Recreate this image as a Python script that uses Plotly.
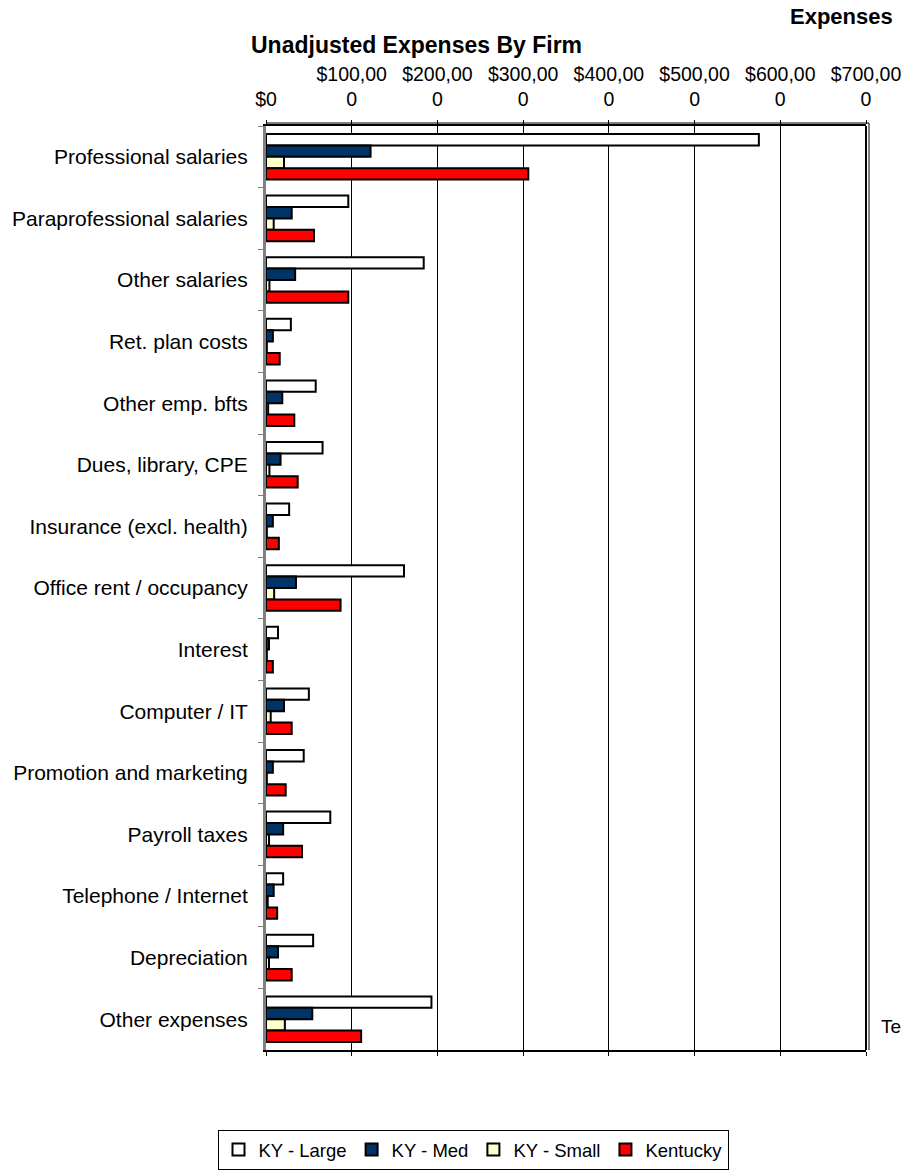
import plotly.graph_objects as go

categories = ["Professional salaries", "Paraprofessional salaries", "Other salaries",
              "Ret. plan costs", "Other emp. bfts", "Dues, library, CPE",
              "Insurance (excl. health)", "Office rent / occupancy", "Interest",
              "Computer / IT", "Promotion and marketing", "Payroll taxes",
              "Telephone / Internet", "Depreciation", "Other expenses"]

ky_large = [575000, 96000, 184000, 29000, 58000, 66000, 27000, 161000, 14000, 50000, 44000, 75000, 20000, 55000, 193000]
ky_med = [122000, 30000, 34000, 8000, 19000, 17000, 8000, 35000, 3500, 21000, 8000, 20000, 9000, 14000, 54000]
ky_small = [21000, 9000, 4000, 1000, 2500, 4000, 1000, 9500, 1000, 5500, 1000, 3500, 2000, 3500, 22000]
kentucky = [306000, 56000, 96000, 16000, 33000, 37000, 15000, 87000, 8000, 30000, 23000, 42000, 13000, 30000, 111000]

series_names = ["KY - Large", "KY - Med", "KY - Small", "Kentucky"]
series_colors = ["#FFFFFF", "#003366", "#FFFFCC", "#FF0000"]

tick_vals = [0, 100000, 200000, 300000, 400000, 500000, 600000, 700000]
tick_text = ["$0", "$100,00<br>0", "$200,00<br>0", "$300,00<br>0", "$400,00<br>0",
             "$500,00<br>0", "$600,00<br>0", "$700,00<br>0"]

fig = go.Figure()
for name, vals, col in zip(series_names, [ky_large, ky_med, ky_small, kentucky], series_colors):
    fig.add_trace(go.Bar(
        y=categories, x=vals, name=name, orientation="h",
        marker=dict(color=col, line=dict(color="black", width=2)),
    ))

W, H = 903, 1174
L, R, T, B = 266, 37, 126, 124
pw = W - L - R
ph = H - T - B

fig.update_layout(
    width=W, height=H,
    margin=dict(l=L, r=R, t=T, b=B, autoexpand=False),
    paper_bgcolor="white", plot_bgcolor="white",
    barmode="group", bargap=0.26, bargroupgap=0,
    font=dict(family="Liberation Sans, Arial", size=19, color="black"),
    showlegend=True,
    legend=dict(orientation="h", x=(473 - L) / pw, xanchor="center", y=-(1130 - (H - B)) / ph,
                yanchor="top", bordercolor="black", borderwidth=1, font=dict(size=18.5),
                itemwidth=30, traceorder="normal", tracegroupgap=0),
    xaxis=dict(side="top", range=[0, 700000], tickvals=tick_vals, ticktext=tick_text,
               showgrid=True, gridcolor="black", gridwidth=1,
               showline=True, linecolor="black", linewidth=2, mirror="ticks",
               ticks="outside", ticklen=4, tickcolor="black", ticklabelstandoff=6,
               tickfont=dict(size=19.5), zeroline=False, fixedrange=True, automargin=False),
    yaxis=dict(autorange="reversed", tickson="boundaries", ticks="outside", ticklen=5,
               tickcolor="#808080", showline=True, linecolor="#808080", linewidth=3,
               tickfont=dict(size=21), ticklabelstandoff=11, showgrid=False,
               fixedrange=True, automargin=False),
    annotations=[
        dict(text="<b>Unadjusted Expenses By Firm</b>", xref="paper", yref="paper",
             x=(416 - L) / pw, y=(H - B - 45) / ph, xanchor="center", yanchor="middle",
             showarrow=False, font=dict(size=23)),
        dict(text="<b>Expenses</b>", xref="paper", yref="paper",
             x=(895 - L) / pw, y=(H - B - 17) / ph, xanchor="right", yanchor="middle",
             showarrow=False, font=dict(size=22)),
        dict(text="Te", xref="paper", yref="paper",
             x=(903 - L) / pw, y=(H - B - 1026) / ph, xanchor="right", yanchor="middle",
             showarrow=False, font=dict(size=19)),
    ],
    shapes=[
        dict(type="line", xref="paper", yref="paper", x0=1, x1=1, y0=0, y1=1,
             line=dict(color="black", width=2)),
        dict(type="line", xref="paper", yref="paper", x0=1 + 3 / pw, x1=1 + 3 / pw, y0=0, y1=1 + 3 / ph,
             line=dict(color="black", width=1)),
        dict(type="line", xref="paper", yref="paper", x0=0, x1=1 + 3 / pw, y0=1 + 3 / ph, y1=1 + 3 / ph,
             line=dict(color="black", width=1)),
    ],
)

fig.write_html("out.html", config={"displayModeBar": False},
               post_script="document.body.style.margin='0';document.body.style.overflow='hidden';")
